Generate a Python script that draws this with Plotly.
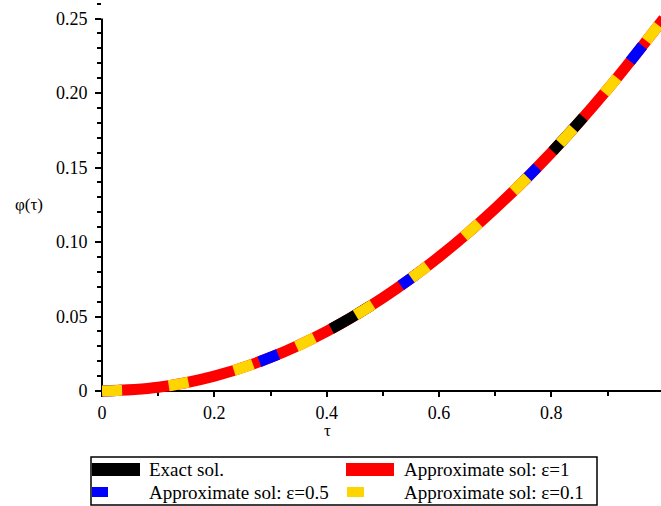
import plotly.graph_objects as go

# ---------------- data ----------------
tau = [0.0, 0.1, 0.2, 0.3, 0.4, 0.5, 0.6, 0.7, 0.8, 0.9, 1.0]
phi_exact = [0.0, 0.0025, 0.010, 0.0225, 0.040, 0.0625, 0.090, 0.1225, 0.160, 0.2025, 0.250]
phi_eps1 = [0.0, 0.0025, 0.010, 0.0225, 0.040, 0.0625, 0.090, 0.1225, 0.160, 0.2025, 0.250]
phi_eps05 = [0.0, 0.0025, 0.010, 0.0225, 0.040, 0.0625, 0.090, 0.1225, 0.160, 0.2025, 0.250]
phi_eps01 = [0.0, 0.0025, 0.010, 0.0225, 0.040, 0.0625, 0.090, 0.1225, 0.160, 0.2025, 0.250]

series_names = ["Exact sol.", "Approximate sol: \u03b5=1",
                "Approximate sol: \u03b5=0.5", "Approximate sol: \u03b5=0.1"]

x_tick_vals = [0, 0.2, 0.4, 0.6, 0.8]
x_tick_text = ["0", "0.2", "0.4", "0.6", "0.8"]
y_tick_vals = [0, 0.05, 0.10, 0.15, 0.20, 0.25]
y_tick_text = ["0", "0.05", "0.10", "0.15", "0.20", "0.25"]

x_label = "\u03c4"
y_label = "\u03c6(\u03c4)"

# ---------------- layout geometry ----------------
W, H = 661, 506
L, R, T, B = 102, 0, 0, 107
PW, PH = W - L - R, H - T - B
X_SCALE = 561.7          # px per unit tau
Y_SCALE = 1490.0         # px per unit phi
Y_ZERO_PX = 391          # pixel row of phi = 0
x_range = [0, PW / X_SCALE]
y_range = [-(H - B - Y_ZERO_PX) / Y_SCALE, (Y_ZERO_PX - T) / Y_SCALE]

def px_x(px):
    return (px - L) / PW

def px_y(py):
    return (H - B - py) / PH

FONT = "Liberation Serif"
LW = 11

colors = {"exact": "#000000", "eps1": "#ff0000", "eps05": "#0000ff", "eps01": "#ffd500"}

fig = go.Figure()
# thick red base line (epsilon = 1)
fig.add_trace(go.Scatter(x=tau, y=phi_eps1, mode="lines", name=series_names[1],
                         line=dict(color=colors["eps1"], width=LW, shape="spline")))
# exact solution: long black dashes
fig.add_trace(go.Scatter(x=tau, y=phi_exact, mode="lines", name=series_names[0],
                         line=dict(color=colors["exact"], width=LW, shape="spline",
                                   dash="1px,239px,45px,0px")))
# epsilon = 0.5: blue dashes
fig.add_trace(go.Scatter(x=tau, y=phi_eps05, mode="lines", name=series_names[2],
                         line=dict(color=colors["eps05"], width=LW, shape="spline",
                                   dash="20px,141px")))
# epsilon = 0.1: yellow dashes
fig.add_trace(go.Scatter(x=tau, y=phi_eps01, mode="lines", name=series_names[3],
                         line=dict(color=colors["eps01"], width=LW, shape="spline",
                                   dash="20px,47px")))

tickfont = dict(family=FONT, size=18, color="#000000")

fig.update_layout(
    width=W, height=H,
    font=dict(family=FONT, size=18, color="#000000"),
    margin=dict(l=L, r=R, t=T, b=B, pad=0, autoexpand=False),
    paper_bgcolor="white", plot_bgcolor="white",
    showlegend=False,
    xaxis=dict(range=x_range, anchor="free", position=px_y(Y_ZERO_PX),
               automargin=False,
               showline=True, linecolor="#000000", linewidth=2,
               ticks="outside", ticklen=5, tickwidth=1.5, tickcolor="#000000",
               tickmode="array", tickvals=x_tick_vals, ticktext=x_tick_text,
               minor=dict(tickmode="linear", tick0=0, dtick=0.1, ticks="outside",
                          ticklen=4, tickwidth=1.5, tickcolor="#000000"),
               tickfont=dict(tickfont), showgrid=False, zeroline=False,
               layer="below traces"),
    yaxis=dict(range=y_range, showline=False, automargin=False,
               ticks="outside", ticklen=6, tickwidth=1.5, tickcolor="#000000",
               ticklabelstandoff=4,
               tickmode="array", tickvals=y_tick_vals, ticktext=y_tick_text,
               minor=dict(tickmode="linear", tick0=0, dtick=0.01, ticks="outside",
                          ticklen=4, tickwidth=1.5, tickcolor="#000000"),
               tickfont=dict(tickfont), showgrid=False, zeroline=False,
               layer="below traces"),
)

shapes = []
# vertical axis line (ends at 0.25 like the original)
shapes.append(dict(type="line", xref="paper", yref="y", x0=0, x1=0,
                   y0=-0.0015, y1=0.25, line=dict(color="#000000", width=2),
                   layer="below"))

# ---------------- manual legend ----------------
shapes.append(dict(type="rect", xref="paper", yref="paper",
                   x0=px_x(91), x1=px_x(597), y0=px_y(457), y1=px_y(505),
                   line=dict(color="#000000", width=1.5), fillcolor="white"))
swatches = [
    (colors["exact"], 92, 140, 463, 476),
    (colors["eps1"], 346, 394, 463, 476),
    (colors["eps05"], 92, 108, 487, 497),
    (colors["eps01"], 347, 364, 487, 497),
]
for c, x0, x1, y0, y1 in swatches:
    shapes.append(dict(type="rect", xref="paper", yref="paper",
                       x0=px_x(x0), x1=px_x(x1), y0=px_y(y0), y1=px_y(y1),
                       line=dict(width=0), fillcolor=c))
fig.update_layout(shapes=shapes)

legend_pos = [(147, 469), (402, 469), (147, 492), (402, 492)]
for name, (lx, ly) in zip(series_names, legend_pos):
    fig.add_annotation(text=name, xref="paper", yref="paper",
                       x=px_x(lx), y=px_y(ly), xanchor="left", yanchor="middle",
                       showarrow=False, font=dict(family=FONT, size=19, color="#000000"))

# axis titles
fig.add_annotation(text=y_label, xref="paper", yref="paper", x=px_x(29), y=px_y(204),
                   xanchor="center", yanchor="middle", showarrow=False,
                   font=dict(family=FONT, size=17, color="#000000"))
fig.add_annotation(text=x_label, xref="paper", yref="paper", x=px_x(327), y=px_y(430),
                   xanchor="center", yanchor="middle", showarrow=False,
                   font=dict(family=FONT, size=17, color="#000000"))

fig.write_html("out.html", config={"displayModeBar": False},
               post_script="document.body.style.margin='0';document.body.style.overflow='hidden';")
